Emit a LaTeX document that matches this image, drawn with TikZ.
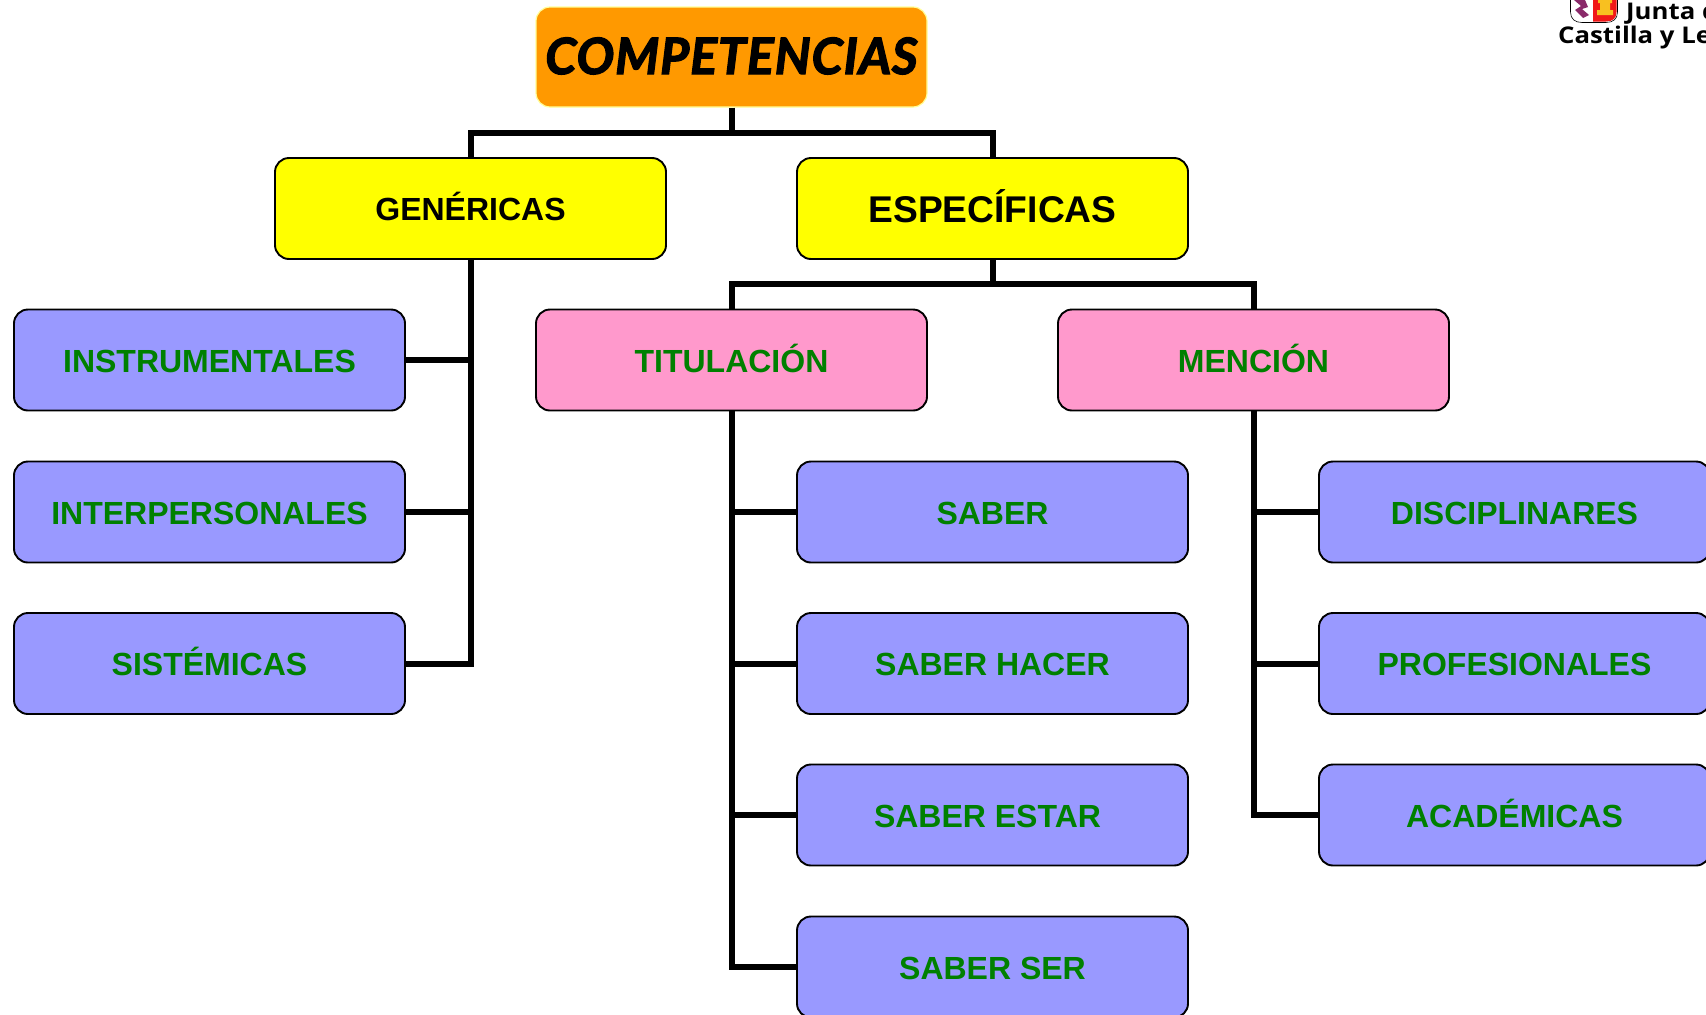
\documentclass[tikz,border=0pt]{standalone}
\usepackage{fontspec}
\setmainfont{Liberation Sans}
\newfontfamily\comicfont[BoldItalicFeatures={FakeBold=2.6,LetterSpace=2}]{Lato}
\newfontfamily\logofont[BoldFeatures={FakeStretch=1.12}]{Open Sans}
\definecolor{orangebox}{HTML}{FF9900}
\definecolor{orangeedge}{HTML}{FFFF99}
\definecolor{yellowbox}{HTML}{FFFF00}
\definecolor{pinkbox}{HTML}{FF99CC}
\definecolor{bluebox}{HTML}{9999FF}
\definecolor{greentext}{HTML}{008000}
\definecolor{lionpurple}{HTML}{8A2A6A}
\definecolor{shieldred}{HTML}{F01818}
\definecolor{castleyellow}{HTML}{F8C020}
\tikzset{
  x=1pt,y=-1pt,
  box/.style={draw=black,line width=1.9pt,rounded corners=14pt,minimum width=391pt,minimum height=101pt,inner sep=0pt,anchor=center,text height=24pt,text depth=0pt,font=\bfseries\fontsize{32}{36}\selectfont},
  rootbox/.style={box,draw=orangeedge,line width=1.2pt,fill=orangebox,minimum height=100pt,text height=34pt,font=\comicfont\bfseries\itshape\fontsize{50}{54}\selectfont},
  yellownode/.style={box,fill=yellowbox},
  pinknode/.style={box,fill=pinkbox,text=greentext},
  bluenode/.style={box,fill=bluebox,text=greentext},
  conn/.style={draw=black,line width=6pt,line cap=butt,line join=miter},
  logotext/.style={font=\logofont\bfseries\fontsize{23}{26}\selectfont,anchor=base west,inner sep=0pt}
}
\begin{document}
\begin{tikzpicture}
\useasboundingbox (0,0) rectangle (1706,1015);
\begin{scope}
\clip (0,0) rectangle (1706,1015);
% nodes
\node[rootbox] (root) at (731.5,57) {COMPETENCIAS};
\node[yellownode] (gen) at (470.5,208.5) {GENÉRICAS};
\node[yellownode,text height=28pt,font=\bfseries\fontsize{37.2}{42}\selectfont] (esp) at (992.5,208.5) {ESPECÍFICAS};
\node[pinknode] (tit) at (731.5,360) {TITULACIÓN};
\node[pinknode] (men) at (1253.5,360) {MENCIÓN};
\node[bluenode] (ins) at (209.5,360) {INSTRUMENTALES};
\node[bluenode] (int) at (209.5,512) {INTERPERSONALES};
\node[bluenode] (sis) at (209.5,663.5) {SISTÉMICAS};
\node[bluenode] (sab) at (992.5,512) {SABER};
\node[bluenode] (hac) at (992.5,663.5) {SABER HACER};
\node[bluenode] (est) at (992.5,815) {SABER ESTAR\kern10pt};
\node[bluenode] (ser) at (992.5,967) {SABER SER};
\node[bluenode] (dis) at (1514.5,512) {DISCIPLINARES};
\node[bluenode] (pro) at (1514.5,663.5) {PROFESIONALES};
\node[bluenode] (aca) at (1514.5,815) {ACADÉMICAS};
% buses
\coordinate (busa) at (0,132.5);
\coordinate (busb) at (0,284);
% connectors
\draw[conn] (root.south) -- (root.south |- busa);
\draw[conn] (root.south |- busa) -| (gen.north);
\draw[conn] (root.south |- busa) -| (esp.north);
\draw[conn] (esp.south) -- (esp.south |- busb);
\draw[conn] (esp.south |- busb) -| (tit.north);
\draw[conn] (esp.south |- busb) -| (men.north);
\draw[conn] (gen.south) |- (sis.east);
\draw[conn] (gen.south |- ins.east) -- (ins.east);
\draw[conn] (gen.south |- int.east) -- (int.east);
\draw[conn] (tit.south) |- (ser.west);
\draw[conn] (tit.south |- sab.west) -- (sab.west);
\draw[conn] (tit.south |- hac.west) -- (hac.west);
\draw[conn] (tit.south |- est.west) -- (est.west);
\draw[conn] (men.south) |- (aca.west);
\draw[conn] (men.south |- dis.west) -- (dis.west);
\draw[conn] (men.south |- pro.west) -- (pro.west);
% logo
\fill[white,draw=black,line width=0.6pt] (1570.5,-2) -- (1570.5,12) .. controls (1570.5,19) and (1575,22.5) .. (1582,22.5) -- (1606,22.5) .. controls (1613,22.5) and (1617.5,19) .. (1617.5,12) -- (1617.5,-2) -- cycle;
\fill[shieldred] (1593,-2) -- (1593,21.5) -- (1606,21.5) .. controls (1613,21.5) and (1616.5,18) .. (1616.5,12) -- (1616.5,-2) -- cycle;
\fill[castleyellow] (1598,0) rectangle (1612,3) (1600,3) rectangle (1610,10) (1597,10) rectangle (1613,15);
\fill[lionpurple] (1574,0) -- (1585,0) -- (1588,7) -- (1582,9) -- (1589,15) -- (1583,18) -- (1575,10) -- (1581,6) -- cycle;
\node[logotext] (j) at (1626,19) {Junta de};
\node[logotext] (c) at (1558,43.5) {Castilla y León};
\end{scope}
\end{tikzpicture}
\end{document}
